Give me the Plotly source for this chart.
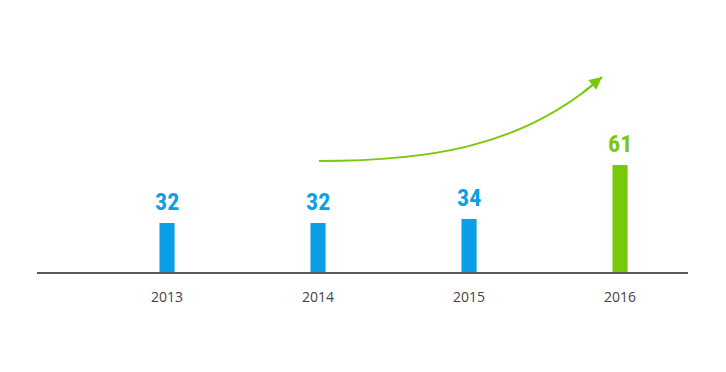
import plotly.graph_objects as go
import numpy as np

years = ["2013", "2014", "2015", "2016"]
values = [32, 32, 34, 61]
bar_colors = ["#0a9fe6", "#0a9fe6", "#0a9fe6", "#78c80c"]

GREEN = "#78c80c"

fig = go.Figure()
fig.add_trace(go.Bar(
    x=years, y=values, width=0.1,
    marker=dict(color=bar_colors, line=dict(width=0)),
    cliponaxis=False,
))
for i, (v, c) in enumerate(zip(values, bar_colors)):
    fig.add_annotation(x=i, y=v, text=f"<b>{v}</b>", showarrow=False,
                       xref="x", yref="y", yanchor="bottom", yshift=5,
                       font=dict(family="Liberation Sans Narrow, Roboto Condensed, Roboto, sans-serif",
                                 size=24, color=c))

# decorative growth arrow (data coordinates)
P0, P1, P2, P3 = (1.007, 63), (1.675, 63), (2.338, 68.5), (2.881, 105)
t = np.linspace(0, 1, 60)
bx = (1-t)**3*P0[0] + 3*(1-t)**2*t*P1[0] + 3*(1-t)*t**2*P2[0] + t**3*P3[0]
by = (1-t)**3*P0[1] + 3*(1-t)**2*t*P1[1] + 3*(1-t)*t**2*P2[1] + t**3*P3[1]
path = f"M {P0[0]},{P0[1]} C {P1[0]},{P1[1]} {P2[0]},{P2[1]} {P3[0]},{P3[1]}"
fig.add_shape(type="path", path=path, xref="x", yref="y",
              line=dict(color=GREEN, width=1.8))
fig.add_annotation(x=P3[0], y=P3[1], ax=bx[-6], ay=by[-6], xref="x", yref="y",
                   axref="x", ayref="y", showarrow=True, arrowhead=2, arrowsize=1.4,
                   arrowwidth=1.8, arrowcolor=GREEN, text="")

fig.update_layout(
    width=718, height=364,
    margin=dict(l=29, r=38, t=0, b=100),
    paper_bgcolor="white", plot_bgcolor="white",
    showlegend=False,
    xaxis=dict(type="category", range=[-0.861, 3.450], showgrid=False, zeroline=False,
               showline=True, linecolor="#5a5a5a", linewidth=2, ticks="",
               ticklabelstandoff=11,
               tickfont=dict(family="Open Sans", size=14, color="#444444")),
    yaxis=dict(range=[7.5, 139.5], visible=False, showgrid=False, zeroline=False),
)

fig.write_html("out.html")
